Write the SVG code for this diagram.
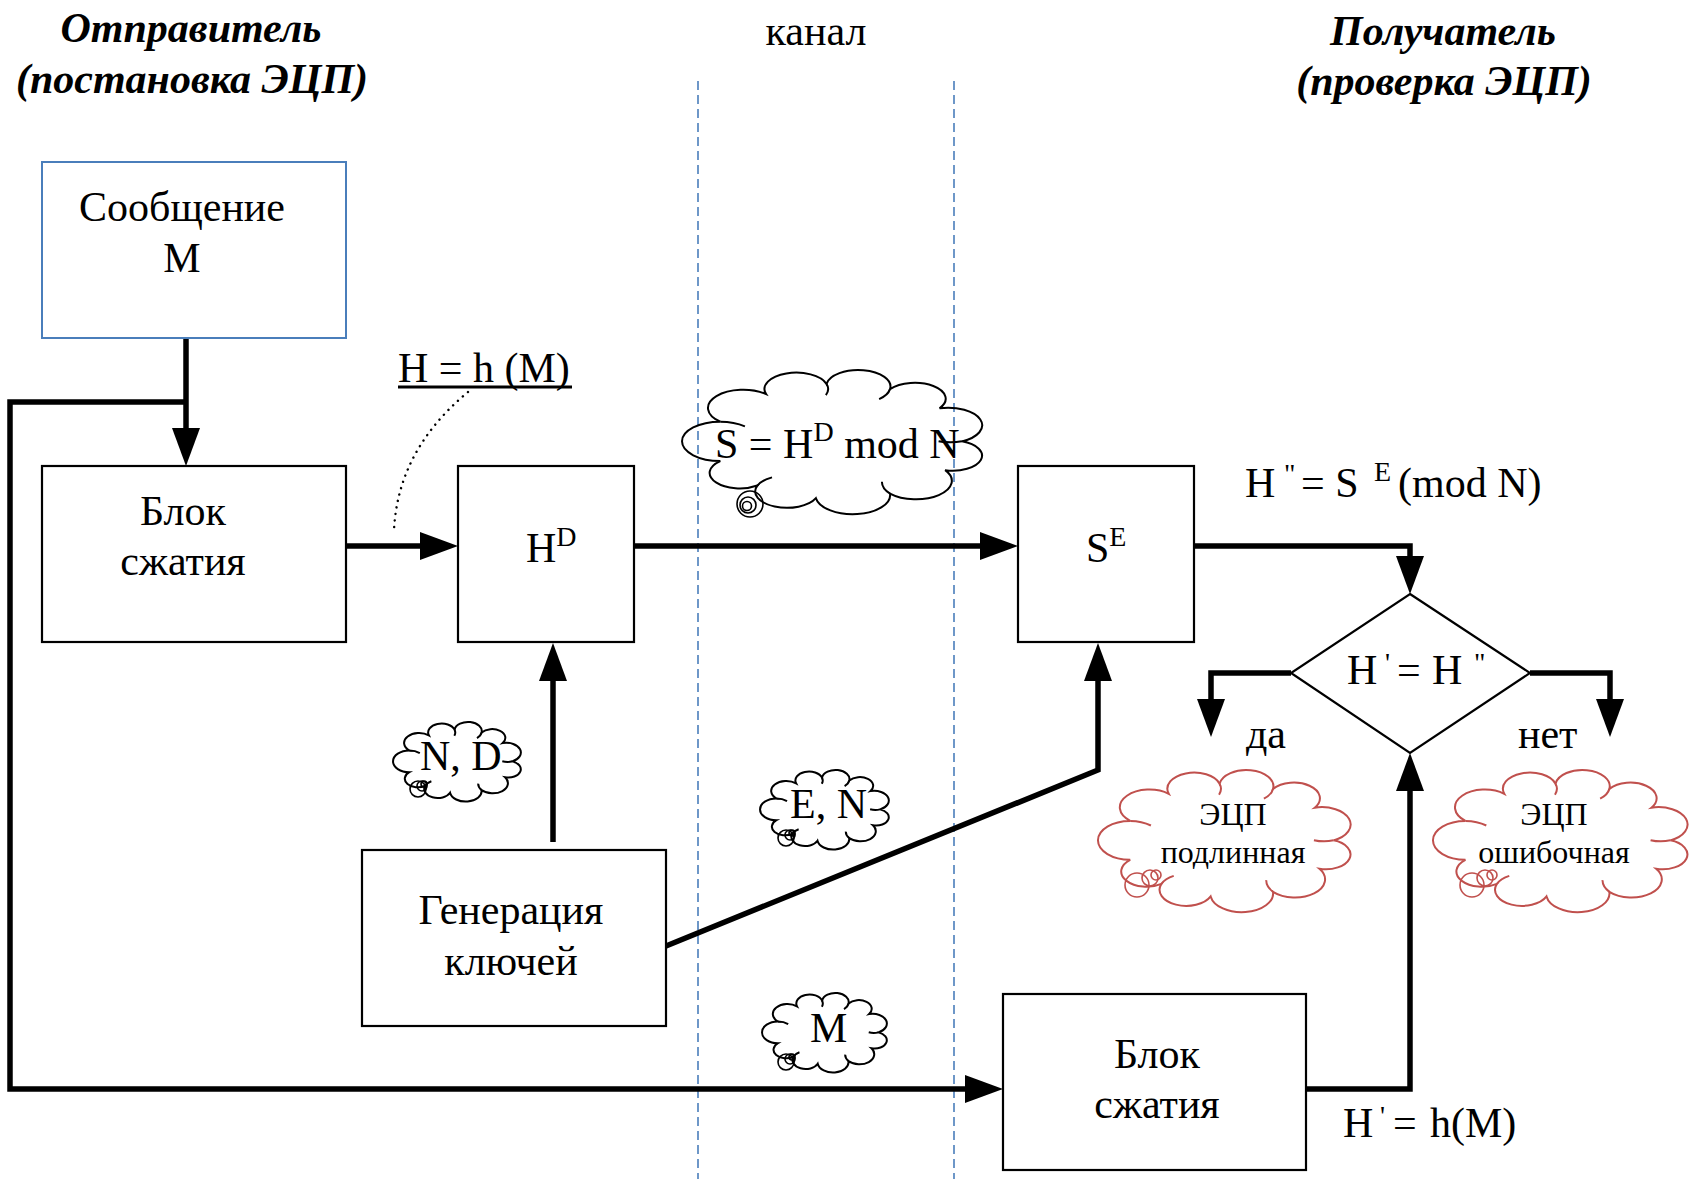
<svg xmlns="http://www.w3.org/2000/svg" width="1691" height="1179" viewBox="0 0 1691 1179">
<style>
text { font-family: "Liberation Serif", "Times New Roman", serif; font-size: 42px; fill: #000; }
.title { font-weight: bold; font-style: italic; }
.mid { text-anchor: middle; }
.sm { font-size: 32px; }
.sup { font-size: 28px; }
.box { fill: #fff; stroke: #000; stroke-width: 2.2; }
.msg { fill: #fff; stroke: #4a7ebb; stroke-width: 2; }
.conn { fill: none; stroke: #000; stroke-width: 5.5; stroke-linejoin: miter; }
.chan { stroke: #4a7ebb; stroke-width: 1.6; stroke-dasharray: 9 5; fill: none; }
.cloud { fill: none; stroke: #000; stroke-width: 2; }
.red { stroke: #c0504d; }
.tail { fill: none; stroke-width: 1.6; }
.dots { fill: none; stroke: #000; stroke-width: 2.4; stroke-dasharray: 0.1 6.5; stroke-linecap: round; }
.uline { stroke: #000; stroke-width: 3; }
</style>
<defs>
<marker id="ah" viewBox="0 0 38 28" refX="1" refY="14" markerWidth="38" markerHeight="28" markerUnits="userSpaceOnUse" orient="auto">
<path d="M0,0 L38,14 L0,28 Z" fill="#000"/>
</marker>
<g id="cloudShape">
<path vector-effect="non-scaling-stroke" d="M12.4,37.7 A11.3,11.3 0 0,1 27.1,20.5 A10.2,10.2 0 0,1 46.5,14.1 A10.3,10.3 0 0,1 66.9,17.4 A9.9,9.9 0 0,1 82.8,29.3 A11,11 0 0,1 90,50 A9.4,9.4 0 0,1 84.6,68 A11.5,11.5 0 0,1 66.9,82.6 A12,12 0 0,1 43.1,85.5 A10.2,10.2 0 0,1 24.3,77.6 A9.7,9.7 0 0,1 12.4,62.3 A12.3,12.3 0 0,1 12.4,37.7 Z"/>
<path vector-effect="non-scaling-stroke" d="M12.4,37.7 A12.3,12.3 0 0,1 20.3,40.6 M46.5,14.1 A10.2,10.2 0 0,1 46.3,21.1 M66.9,17.4 A10.3,10.3 0 0,1 63.4,23.6 M90,50 A11,11 0 0,1 82.5,49.9 M66.9,82.6 A11.5,11.5 0 0,1 64.3,75.2 M24.3,77.6 A10.2,10.2 0 0,1 29,72.5"/>
</g>
</defs>
<rect width="1691" height="1179" fill="#fff"/>

<g id="channel">
<line class="chan" x1="698" y1="81" x2="698" y2="1179"/>
<line class="chan" x1="954" y1="81" x2="954" y2="1179"/>
</g>

<g id="titles">
<text class="title mid" x="191" y="42">Отправитель</text>
<text class="title mid" x="192" y="93">(постановка ЭЦП)</text>
<text class="mid" x="816" y="45">канал</text>
<text class="title mid" x="1443" y="45">Получатель</text>
<text class="title mid" x="1444" y="95">(проверка ЭЦП)</text>
</g>

<g id="connectors">
<path class="conn" d="M186,338 V429" marker-end="url(#ah)"/>
<path class="conn" d="M186,402 H10 V1089 H966" marker-end="url(#ah)"/>
<path class="conn" d="M346,546 H421" marker-end="url(#ah)"/>
<path class="conn" d="M634,546 H981" marker-end="url(#ah)"/>
<path class="conn" d="M553,842 V680" marker-end="url(#ah)"/>
<path class="conn" d="M666,946 L1098,770 V680" marker-end="url(#ah)"/>
<path class="conn" d="M1194,546 H1410 V557" marker-end="url(#ah)"/>
<path class="conn" d="M1291,673 H1211 V700" marker-end="url(#ah)"/>
<path class="conn" d="M1530,673 H1610 V700" marker-end="url(#ah)"/>
<path class="conn" d="M1306,1089 H1410 V790" marker-end="url(#ah)"/>
<path class="dots" d="M468,392 Q398,450 394,530"/>
</g>

<g id="message">
<rect class="msg" x="42" y="162" width="304" height="176"/>
<text class="mid" x="182" y="221">Сообщение</text>
<text class="mid" x="182" y="272">М</text>
</g>

<g id="compress1">
<rect class="box" x="42" y="466" width="304" height="176"/>
<text class="mid" x="183" y="525">Блок</text>
<text class="mid" x="183" y="575">сжатия</text>
</g>

<g id="hash-label">
<text x="398" y="382">H = h (M)</text>
<line class="uline" x1="398" y1="387" x2="572" y2="387"/>
</g>

<g id="sign">
<rect class="box" x="458" y="466" width="176" height="176"/>
<text x="526" y="562">H<tspan class="sup" dy="-16">D</tspan></text>
</g>

<g id="verify">
<rect class="box" x="1018" y="466" width="176" height="176"/>
<text x="1086" y="562">S<tspan class="sup" dy="-16">E</tspan></text>
</g>

<g id="keygen">
<rect class="box" x="362" y="850" width="304" height="176"/>
<text class="mid" x="511" y="924">Генерация</text>
<text class="mid" x="511" y="975">ключей</text>
</g>

<g id="compress2">
<rect class="box" x="1003" y="994" width="303" height="176"/>
<text class="mid" x="1157" y="1068">Блок</text>
<text class="mid" x="1157" y="1118">сжатия</text>
</g>

<g id="compare">
<polygon class="box" points="1410,594 1530,673 1410,753 1291,673" stroke-width="2"/>
<text y="684"><tspan x="1347">H</tspan><tspan x="1385" class="sup" dy="-12">'</tspan><tspan x="1397" dy="12">=</tspan><tspan x="1432">H</tspan><tspan x="1474" class="sup" dy="-12">"</tspan></text>
</g>

<g id="formula-verify">
<text y="497"><tspan x="1245">H</tspan><tspan x="1284" class="sup" dy="-14">"</tspan><tspan x="1301" dy="14">= S</tspan><tspan x="1374" class="sup" dy="-16">E</tspan><tspan x="1398" dy="16">(mod N)</tspan></text>
</g>

<g id="formula-hash2">
<text y="1137"><tspan x="1343">H</tspan><tspan x="1380" class="sup" dy="-12">'</tspan><tspan x="1393" dy="12">=</tspan><tspan x="1430">h(M)</tspan></text>
</g>

<g id="yes-no">
<text x="1246" y="748">да</text>
<text x="1518" y="748">нет</text>
</g>

<g id="cloud-signature">
<use href="#cloudShape" class="cloud" transform="translate(681.7,361.3) scale(3.114,1.601)"/>
<circle class="cloud tail" cx="750" cy="504" r="13"/>
<circle class="cloud tail" cx="748" cy="505" r="8"/>
<circle class="cloud tail" cx="747" cy="506" r="4.5"/>
<text x="715" y="458">S = H<tspan class="sup" dy="-17">D</tspan><tspan dy="17"> mod N</tspan></text>
</g>

<g id="cloud-private">
<use href="#cloudShape" class="cloud" transform="translate(392.9,717.2) scale(1.326,0.8835)"/>
<circle class="cloud tail" cx="418" cy="789" r="8"/>
<circle class="cloud tail" cx="422" cy="786" r="5"/>
<circle class="cloud tail" cx="424" cy="784" r="3"/>
<text x="420" y="770">N, D</text>
</g>

<g id="cloud-public">
<use href="#cloudShape" class="cloud" transform="translate(759.9,765.2) scale(1.336,0.8835)"/>
<circle class="cloud tail" cx="786" cy="838" r="8"/>
<circle class="cloud tail" cx="790" cy="835" r="5"/>
<circle class="cloud tail" cx="792" cy="833" r="3"/>
<text x="790" y="818">E, N</text>
</g>

<g id="cloud-message">
<use href="#cloudShape" class="cloud" transform="translate(761.9,988.2) scale(1.295,0.8835)"/>
<circle class="cloud tail" cx="786" cy="1062" r="8"/>
<circle class="cloud tail" cx="790" cy="1059" r="5"/>
<circle class="cloud tail" cx="792" cy="1057" r="3"/>
<text x="810" y="1042">M</text>
</g>

<g id="cloud-valid">
<use href="#cloudShape" class="cloud red" transform="translate(1097.7,761.4) scale(2.621,1.579)"/>
<circle class="cloud tail red" cx="1137" cy="885" r="12"/>
<circle class="cloud tail red" cx="1150" cy="878" r="8"/>
<circle class="cloud tail red" cx="1156" cy="875" r="5"/>
<text class="sm mid" x="1233" y="825">ЭЦП</text>
<text class="sm mid" x="1233" y="863">подлинная</text>
</g>

<g id="cloud-invalid">
<use href="#cloudShape" class="cloud red" transform="translate(1432.7,761.4) scale(2.641,1.579)"/>
<circle class="cloud tail red" cx="1472" cy="885" r="12"/>
<circle class="cloud tail red" cx="1485" cy="878" r="8"/>
<circle class="cloud tail red" cx="1492" cy="875" r="5"/>
<text class="sm mid" x="1554" y="825">ЭЦП</text>
<text class="sm mid" x="1554" y="863">ошибочная</text>
</g>
</svg>
